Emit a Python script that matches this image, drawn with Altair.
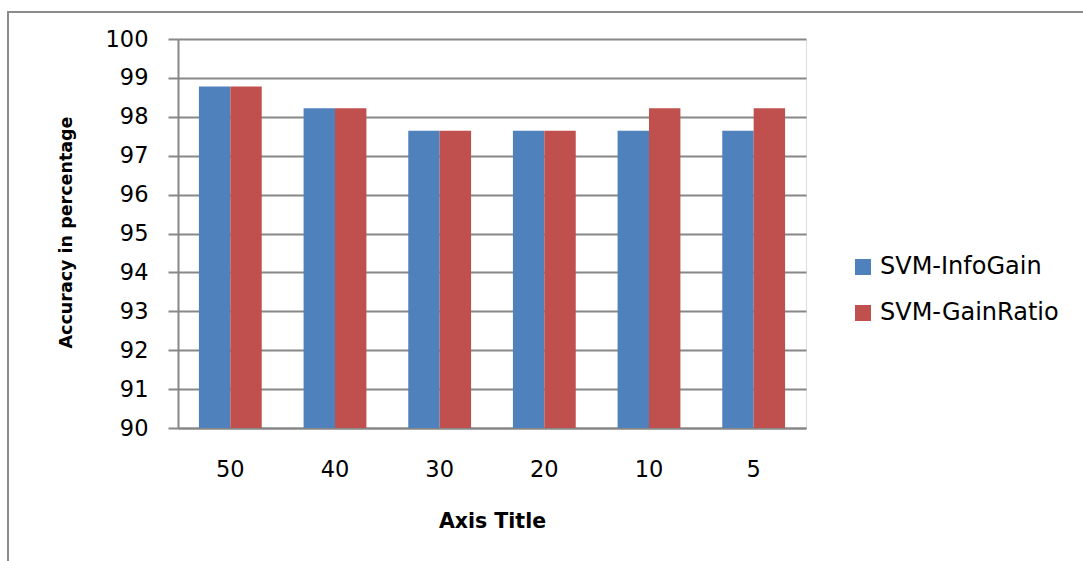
import altair as alt
import pandas as pd

categories = ["50", "40", "30", "20", "10", "5"]
series_names = ["SVM-InfoGain", "SVM-GainRatio"]
info_gain = [98.78, 98.22, 97.64, 97.64, 97.64, 97.64]
gain_ratio = [98.78, 98.22, 97.64, 97.64, 98.22, 98.22]
y_ticks = [90, 91, 92, 93, 94, 95, 96, 97, 98, 99, 100]
colors = ["#4F81BD", "#C0504D"]

rows = []
for c, a, b in zip(categories, info_gain, gain_ratio):
    rows.append({"cat": c, "series": series_names[0], "value": a})
    rows.append({"cat": c, "series": series_names[1], "value": b})
df = pd.DataFrame(rows)

FONT = "DejaVu Sans"
GRID = "#878787"

bars = alt.Chart(df).mark_bar(clip=True).encode(
    x=alt.X("cat:N", sort=categories,
            scale=alt.Scale(paddingInner=0.4, paddingOuter=0.2),
            axis=alt.Axis(title="Axis Title", labelAngle=0, tickSize=0,
                          labelPadding=30, labelFontSize=22.5, labelFont=FONT,
                          labelColor="#000000", domainColor=GRID, domainWidth=2,
                          titleFont=FONT, titleFontSize=20.5, titleFontWeight="bold",
                          titleColor="#000000", titleY=93, titleBaseline="middle",
                          grid=False)),
    xOffset=alt.XOffset("series:N", sort=series_names),
    y=alt.Y("value:Q", scale=alt.Scale(domain=[90, 100], nice=False, zero=False),
            axis=alt.Axis(title="Accuracy in percentage", values=y_ticks,
                          tickSize=10, tickColor=GRID, tickWidth=2,
                          labelPadding=20, labelFontSize=22.5, labelFont=FONT,
                          labelColor="#000000", domainColor=GRID, domainWidth=2,
                          gridColor=GRID, gridWidth=2,
                          titleFont=FONT, titleFontSize=17.5, titleFontWeight="bold",
                          titleColor="#000000", titleX=-112, titleY=193,
                          titleBaseline="middle")),
    color=alt.Color("series:N", sort=series_names,
                    scale=alt.Scale(domain=series_names, range=colors),
                    legend=alt.Legend(title=None, orient="none", legendX=673, legendY=216,
                                      symbolType="square", symbolSize=256,
                                      symbolStrokeWidth=0, labelFont=FONT,
                                      labelFontSize=24, labelColor="#000000",
                                      labelLimit=0, labelOffset=5, rowPadding=22,
                                      padding=0)),
)

border = alt.Chart(pd.DataFrame({"k": [0]})).mark_rect(
    fill=None, stroke="#8c8c8c", strokeWidth=2
).encode(x=alt.value(-170), x2=alt.value(930), y=alt.value(-27), y2=alt.value(560))

chart = alt.layer(border, bars).properties(
    width=628, height=389,
    autosize=alt.AutoSizeParams(type="none"),
    padding={"left": 178, "top": 39, "right": 277, "bottom": 133},
).configure_view(stroke=None).configure(background="#ffffff")

chart.save("out.html", embed_options={"renderer": "svg", "actions": False})
